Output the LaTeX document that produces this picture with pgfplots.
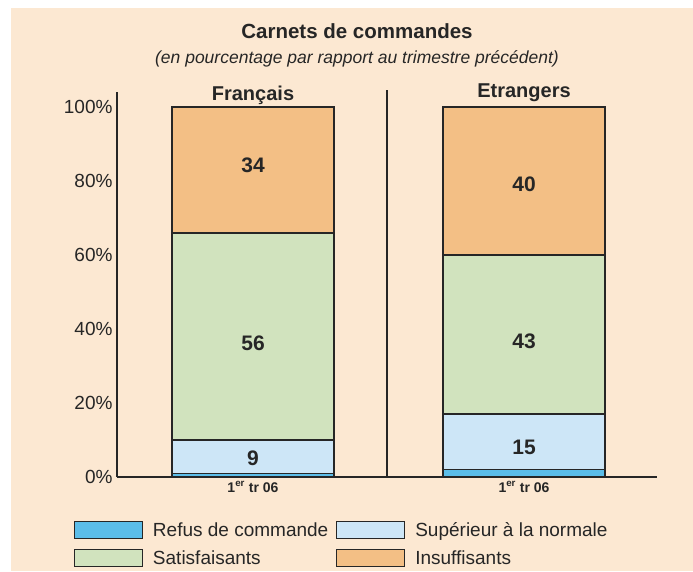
\documentclass[border=0pt]{standalone}
\usepackage{pgfplots}
\pgfplotsset{compat=1.18}
\usepackage{fontspec}
\setmainfont{Liberation Sans}
\definecolor{peach}{HTML}{FCE8D2}
\definecolor{dark}{HTML}{262626}
\definecolor{refus}{HTML}{5BBDE9}
\definecolor{sup}{HTML}{CDE6F7}
\definecolor{sat}{HTML}{D1E3BE}
\definecolor{insuf}{HTML}{F3BF85}
\begin{document}
\begin{tikzpicture}
\fill[white] (0pt,0pt) rectangle (693pt,571pt);
\fill[peach] (11pt,0pt) rectangle (693pt,563pt);
\node[text=dark, font=\fontsize{20.5}{23}\selectfont\bfseries] at (357pt,540pt) {Carnets de commandes};
\node[text=dark, font=\fontsize{17.5}{20}\selectfont\itshape] at (357pt,512pt) {(en pourcentage par rapport au trimestre précédent)};
\node[text=dark, font=\fontsize{20}{22}\selectfont\bfseries] at (253pt,476pt) {Français};
\node[text=dark, font=\fontsize{20}{22}\selectfont\bfseries] at (524pt,478pt) {Etrangers};
\begin{axis}[
  at={(117pt,94pt)}, anchor=south west,
  scale only axis, width=540pt, height=385pt,
  xmin=117, xmax=657, ymin=0, ymax=104.05,
  axis x line*=bottom, axis y line*=left,
  axis line style={line width=2pt, draw=dark, -},
  major tick length=0pt,
  ytick={0,20,40,60,80,100},
  yticklabel={\pgfmathprintnumber{\tick}\%},
  xtick={253,524},
  xticklabels={{1\textsuperscript{er} tr 06},{1\textsuperscript{er} tr 06}},
  x tick label style={font=\fontsize{14}{16}\selectfont\bfseries, text=dark, yshift=-1pt},
  y tick label style={font=\fontsize{19}{21}\selectfont, text=dark, xshift=-1pt},
  /pgf/number format/assume math mode=true,
  ybar stacked, bar width=162,
  every axis plot/.append style={draw=dark, line width=1.5pt},
  legend columns=2,
  legend cell align=left,
  legend style={draw=none, fill=none, at={(-0.08,-0.112)}, anchor=north west,
    font=\fontsize{19}{21}\selectfont, text=dark, inner sep=0pt,
    /tikz/every even column/.append style={column sep=6pt},
    /tikz/every odd column/.append style={column sep=8pt},
    row sep=9pt},
  legend image code/.code={\draw[#1, line width=1pt] (0pt,-8.5pt) rectangle (68pt,8.5pt);},
  clip=false,
]
\addplot[fill=refus] coordinates {(253,1) (524,2)};
\addplot[fill=sup] coordinates {(253,9) (524,15)};
\addplot[fill=sat] coordinates {(253,56) (524,43)};
\addplot[fill=insuf] coordinates {(253,34) (524,40)};
\legend{Refus de commande,Supérieur à la normale,Satisfaisants,Insuffisants}
\draw[dark, line width=2pt] (axis cs:387,0) -- (axis cs:387,104.6);
\draw[dark, line width=2pt] (axis cs:117,0) -- (axis cs:121,0);
\end{axis}
\begin{axis}[
  at={(117pt,94pt)}, anchor=south west,
  scale only axis, width=540pt, height=385pt,
  xmin=117, xmax=657, ymin=0, ymax=104.05,
  hide axis,
  nodes near coords, point meta=explicit symbolic,
  every node near coord/.append style={anchor=center, font=\fontsize{21}{23}\selectfont\bfseries, text=dark},
]
\addplot[draw=none, mark=none, only marks] coordinates {
  (253,5.1)[9] (253,36.2)[56] (253,84.3)[34]
  (524,8.1)[15] (524,36.8)[43] (524,79.2)[40]};
\end{axis}
\end{tikzpicture}
\end{document}
